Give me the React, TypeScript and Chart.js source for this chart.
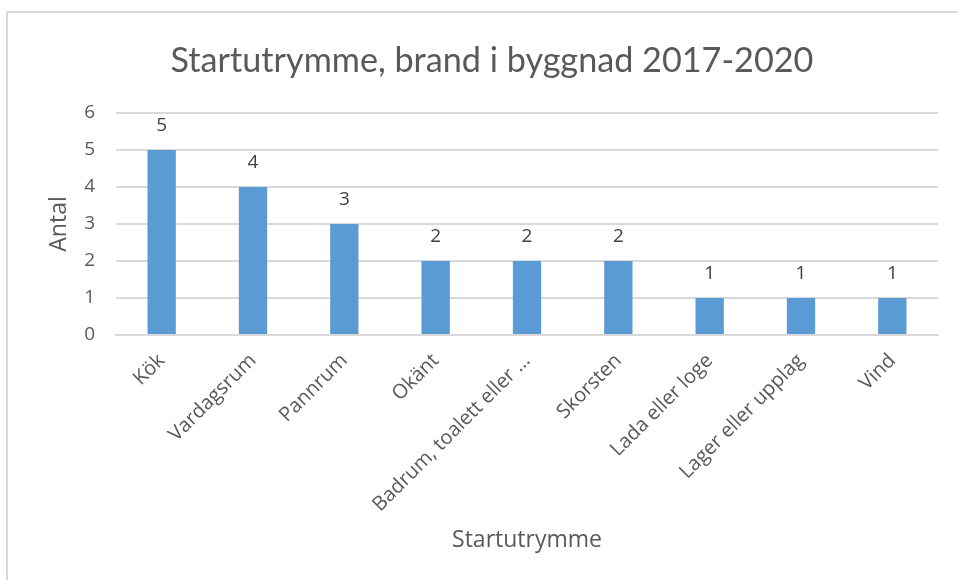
import React, { useEffect, useRef } from "react";
import { Chart, registerables } from "chart.js";

Chart.register(...registerables);

const chartTitle = "Startutrymme, brand i byggnad 2017-2020";
const xTitle = "Startutrymme";
const yTitle = "Antal";
const categories = [
  "Kök",
  "Vardagsrum",
  "Pannrum",
  "Okänt",
  "Badrum, toalett eller …",
  "Skorsten",
  "Lada eller loge",
  "Lager eller upplag",
  "Vind",
];
const counts = [5, 4, 3, 2, 2, 2, 1, 1, 1];
const yTickValues = [0, 1, 2, 3, 4, 5, 6];

const TITLE_FONT = "Lato, 'Open Sans', sans-serif";
const FONT = "'Open Sans', 'Noto Sans', sans-serif";

const dataLabelPlugin = {
  id: "dataLabels",
  afterDatasetsDraw(chart: any) {
    const ctx = chart.ctx;
    ctx.save();
    ctx.font = `19px ${FONT}`;
    ctx.fillStyle = "#404040";
    ctx.textAlign = "center";
    ctx.textBaseline = "middle";
    chart.data.datasets.forEach((ds: any, di: number) => {
      const meta = chart.getDatasetMeta(di);
      meta.data.forEach((el: any, i: number) => {
        ctx.fillText(String(ds.data[i]), el.x, el.y - 24);
      });
    });
    ctx.restore();
  },
};

export default function App() {
  const ref = useRef<HTMLCanvasElement | null>(null);

  useEffect(() => {
    document.body.style.margin = "0";
    if (!ref.current) return;
    const chart = new Chart(ref.current, {
      type: "bar",
      data: {
        labels: categories,
        datasets: [
          {
            data: counts,
            backgroundColor: "#5B9BD5",
            borderWidth: 0,
            categoryPercentage: 1,
            barPercentage: 0.31,
          },
        ],
      },
      options: {
        responsive: false,
        animation: false,
        layout: { padding: { left: 46, right: 20, top: 0, bottom: 0 } },
        plugins: {
          legend: { display: false },
          tooltip: { enabled: false },
          title: {
            display: true,
            text: chartTitle,
            color: "#595959",
            font: { family: TITLE_FONT, size: 34.2, weight: "normal" },
            padding: { top: 40, bottom: 31.9 },
          },
        },
        scales: {
          x: {
            grid: { display: false },
            border: { display: true, color: "#d9d9d9", width: 2 },
            ticks: {
              color: "#595959",
              font: { family: FONT, size: 20 },
              minRotation: 45,
              maxRotation: 45,
              padding: 6,
              autoSkip: false,
            },
            title: {
              display: true,
              text: xTitle,
              color: "#595959",
              font: { family: FONT, size: 23, weight: "normal" },
              padding: { top: 0, bottom: 25.5 },
            },
            afterFit(scale: any) {
              scale.height = 245;
            },
          },
          y: {
            min: 0,
            max: 6,
            afterBuildTicks(scale: any) {
              scale.ticks = yTickValues.map((v) => ({ value: v }));
            },
            grid: { color: "#d9d9d9", lineWidth: 2, drawTicks: false },
            border: { display: false },
            ticks: {
              color: "#595959",
              font: { family: FONT, size: 19 },
              padding: 21,
            },
            title: {
              display: true,
              text: yTitle,
              color: "#595959",
              font: { family: FONT, size: 23, weight: "normal" },
              padding: { top: 0, bottom: 0 },
            },
            afterFit(scale: any) {
              scale.width = 70;
            },
          },
        },
      },
      plugins: [dataLabelPlugin],
    });
    return () => chart.destroy();
  }, []);

  return (
    <div
      style={{
        position: "relative",
        width: 958,
        height: 580,
        overflow: "hidden",
        background: "#fff",
      }}
    >
      <div
        style={{
          position: "absolute",
          left: 6,
          top: 11,
          width: 1100,
          height: 1100,
          border: "2px solid #d9d9d9",
        }}
      />
      <canvas
        ref={ref}
        width={958}
        height={580}
        style={{ position: "absolute", left: 0, top: 0, width: 958, height: 580 }}
      />
    </div>
  );
}
